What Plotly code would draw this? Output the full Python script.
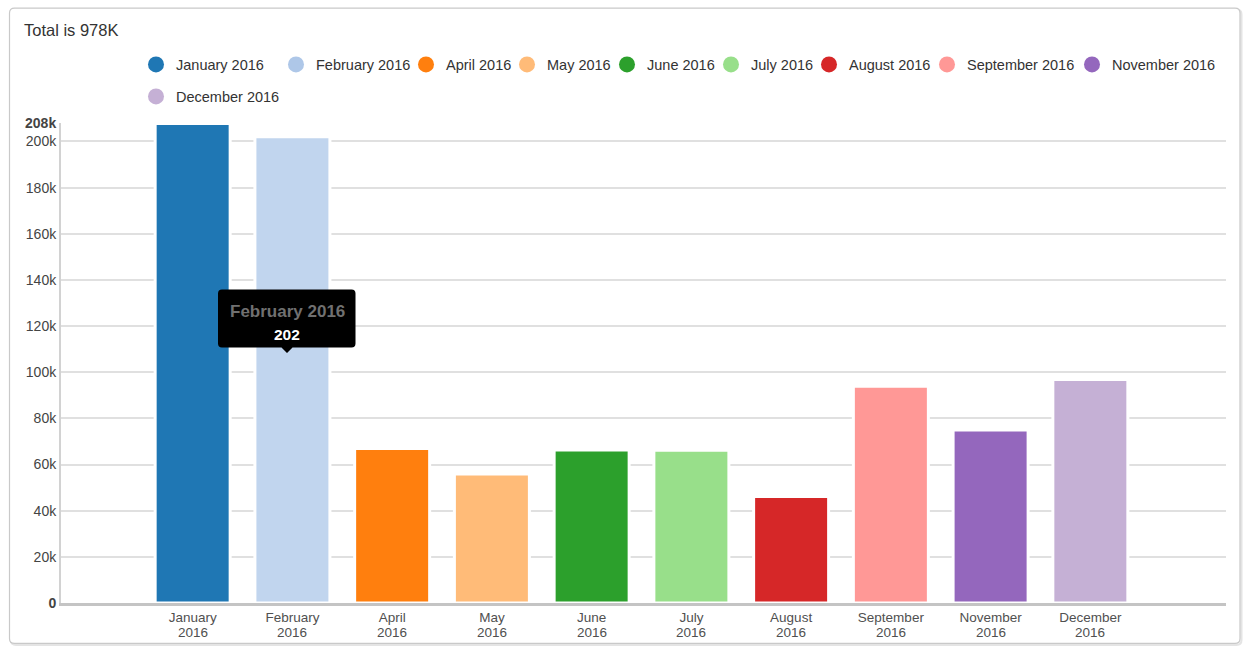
import plotly.graph_objects as go

# Monthly totals (in thousands)
months = ["January 2016", "February 2016", "April 2016", "May 2016", "June 2016",
          "July 2016", "August 2016", "September 2016", "November 2016", "December 2016"]
values = [207.8, 202, 66.9, 55.9, 66.3, 66.2, 46.2, 93.9, 75.0, 96.8]
colors = ["#1f77b4", "#c1d5ee", "#ff7f0e", "#ffbb78", "#2ca02c",
          "#98df8a", "#d62728", "#ff9896", "#9467bd", "#c5b0d5"]
legend_colors = ["#1f77b4", "#aec7e8", "#ff7f0e", "#ffbb78", "#2ca02c",
                 "#98df8a", "#d62728", "#ff9896", "#9467bd", "#c5b0d5"]
tick_vals = [0, 20, 40, 60, 80, 100, 120, 140, 160, 180, 200, 208]
tick_text = ["<b>0</b>", "20k", "40k", "60k", "80k", "100k", "120k", "140k",
             "160k", "180k", "200k", "<b>208k</b>"]
title_text = "Total is 978K"
tooltip_index = 1

# Legend entry layout (marker centre x, row centre y) in pixels
legend_pos = [(158, 64.5), (298, 64.5), (428, 64.5), (529, 64.5), (629, 64.5),
              (733, 64.5), (831, 64.5), (949, 64.5), (1094, 64.5), (158, 96.5)]

W, H = 1246, 646
L, R, T, B = 61, 1226, 122.6, 603.5
FONT = "Liberation Sans, Arial, Helvetica, sans-serif"


def px(x):
    return (x - L) / (R - L)


def py(y):
    return (B - y) / (B - T)


month_names = [m.split(" ")[0] for m in months]
years = [m.split(" ")[1] for m in months]

fig = go.Figure()
fig.add_trace(go.Bar(
    x=month_names, y=values, width=0.752,
    marker=dict(color=colors, line=dict(color="white", width=3)),
    hoverinfo="skip", showlegend=False,
))

# Legend entries drawn as round markers, one small legend box per entry
legend_boxes = {}
for i, (m, c) in enumerate(zip(months, legend_colors)):
    key = "legend" if i == 0 else f"legend{i + 1}"
    fig.add_trace(go.Scatter(
        x=[None], y=[None], mode="markers", name=m,
        marker=dict(color=c, size=16, symbol="circle"),
        legend=key, hoverinfo="skip",
    ))
    cx, cy = legend_pos[i]
    legend_boxes[key] = dict(
        orientation="h", xref="container", yref="container",
        x=(cx - 22) / W, xanchor="left", y=1 - cy / H, yanchor="middle",
        font=dict(family=FONT, size=14.5, color="#333333"),
        bgcolor="rgba(0,0,0,0)", itemclick=False, itemdoubleclick=False,
    )

# Card frame
r = 5
x0, x1, y0, y1 = 9.5, 1240, 7.5, 644


def rounded(x0, y0, x1, y1, r):
    return (f"M {px(x0 + r)},{py(y0)} L {px(x1 - r)},{py(y0)} "
            f"Q {px(x1)},{py(y0)} {px(x1)},{py(y0 + r)} L {px(x1)},{py(y1 - r)} "
            f"Q {px(x1)},{py(y1)} {px(x1 - r)},{py(y1)} L {px(x0 + r)},{py(y1)} "
            f"Q {px(x0)},{py(y1)} {px(x0)},{py(y1 - r)} L {px(x0)},{py(y0 + r)} "
            f"Q {px(x0)},{py(y0)} {px(x0 + r)},{py(y0)} Z")


shapes = [
    dict(type="path", xref="paper", yref="paper", path=rounded(x0 + 1.5, y0 + 1.5, x1 + 1.5, y1 + 1.5, r),
         line=dict(color="#e4e4e4", width=2), layer="below"),
    dict(type="path", xref="paper", yref="paper", path=rounded(x0, y0, x1, y1, r),
         line=dict(color="#c9c9c9", width=1.2), fillcolor="white", layer="below"),
]

# Tooltip bubble
tx0, tx1, ty0, ty1, tr = 218, 355.5, 289.5, 347.5, 4
tip = 287
bubble = (f"M {px(tx0 + tr)},{py(ty0)} L {px(tx1 - tr)},{py(ty0)} "
          f"Q {px(tx1)},{py(ty0)} {px(tx1)},{py(ty0 + tr)} L {px(tx1)},{py(ty1 - tr)} "
          f"Q {px(tx1)},{py(ty1)} {px(tx1 - tr)},{py(ty1)} L {px(tip + 5.5)},{py(ty1)} "
          f"L {px(tip)},{py(ty1 + 5.5)} L {px(tip - 5.5)},{py(ty1)} "
          f"L {px(tx0 + tr)},{py(ty1)} Q {px(tx0)},{py(ty1)} {px(tx0)},{py(ty1 - tr)} "
          f"L {px(tx0)},{py(ty0 + tr)} Q {px(tx0)},{py(ty0)} {px(tx0 + tr)},{py(ty0)} Z")
shapes.append(dict(type="path", xref="paper", yref="paper", path=bubble,
                   fillcolor="black", line=dict(width=0), layer="above"))

tip_label = months[tooltip_index]
tip_value = values[tooltip_index]
annotations = [
    dict(xref="paper", yref="paper", x=px(287), y=py(311), text=f"<b>{tip_label}</b>",
         showarrow=False, font=dict(family=FONT, size=17, color="#707070"),
         xanchor="center", yanchor="middle"),
    dict(xref="paper", yref="paper", x=px(287), y=py(334), text=f"<b>{tip_value:g}</b>",
         showarrow=False, font=dict(family=FONT, size=15.5, color="white"),
         xanchor="center", yanchor="middle"),
]

# Second line of each category label (the year), set tight under the month
for name, yr in zip(month_names, years):
    annotations.append(dict(
        x=name, xref="x", y=0, yref="y", yshift=-29, text=yr, showarrow=False,
        font=dict(family=FONT, size=13.5, color="#505050"),
        xanchor="center", yanchor="middle",
    ))

fig.update_layout(
    width=W, height=H,
    margin=dict(l=L, r=W - R, t=T, b=H - B, autoexpand=False),
    paper_bgcolor="white", plot_bgcolor="rgba(0,0,0,0)",
    font=dict(family=FONT, color="#555555"),
    title=dict(text=title_text, x=24 / W, xref="container", xanchor="left",
               y=1 - 30 / H, yref="container", yanchor="middle",
               font=dict(family=FONT, size=16.5, color="#333333")),
    barmode="overlay",
    showlegend=True,
    xaxis=dict(type="category", categoryorder="array", categoryarray=month_names,
               range=[-1.32, 10.36], showgrid=False, showline=True,
               linecolor="#c4c4c4", linewidth=2.5, ticks="", zeroline=False,
               tickfont=dict(family=FONT, size=13.5, color="#505050"),
               automargin=False, fixedrange=True),
    yaxis=dict(range=[0, 208], tickvals=tick_vals, ticktext=tick_text,
               showgrid=True, gridcolor="#e0e0e0", gridwidth=1.5,
               showline=True, linecolor="#d2d2d2", linewidth=2, zeroline=False,
               ticks="", tickfont=dict(family=FONT, size=14, color="#444444"),
               automargin=False, fixedrange=True),
    shapes=shapes,
    annotations=annotations,
    **legend_boxes,
)

fig.write_html("out.html")
